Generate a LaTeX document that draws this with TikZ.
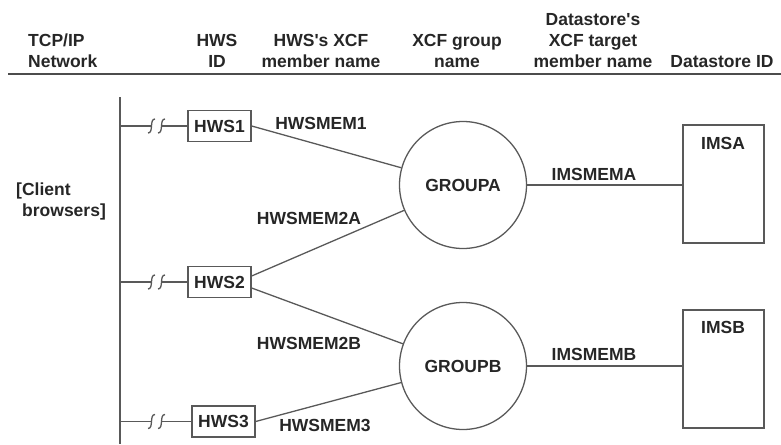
\documentclass[tikz,border=0pt]{standalone}
\usepackage{fontspec}
\setmainfont{Liberation Sans}
\usetikzlibrary{calc}
\begin{document}
\begin{tikzpicture}[x=1pt,y=-1pt,
  every node/.style={font=\fontsize{17.5}{21}\selectfont\bfseries, text=black!85},
  ln/.style={draw=black!65, line width=1.3pt},
  hws/.style={ln, minimum width=63pt, minimum height=31pt, inner sep=0pt},
  grp/.style={ln, circle, minimum size=127pt, inner sep=0pt},
  ds/.style={ln, minimum width=81pt, minimum height=118pt, inner sep=0pt},
  lbl/.style={inner sep=0pt},
  hdr/.style={align=center, inner sep=0pt}]
\useasboundingbox (0,0) rectangle (781,444);

% header
\node[hdr, align=left, anchor=west] (t1) at (28,51) {TCP/IP\\Network};
\node[hdr] (t2) at (217,51) {HWS\\ID};
\node[hdr] (t3) at (321,51) {HWS\textquotesingle s XCF\\member name};
\node[hdr] (t4) at (457,51) {XCF group\\name};
\node[hdr] (t5) at (593,41) {Datastore\textquotesingle s\\XCF target\\member name};
\node[hdr] (t6) at (722,62) {Datastore ID};
\coordinate (hl) at (8,74);
\coordinate (hr) at (781,74);
\draw[draw=black!70, line width=1.5pt] (hl) -- (hr);

% client side
\node[lbl, align=left, anchor=west] (cb) at (16,201) {[Client\\\hspace*{6pt}browsers]};
\coordinate (busT) at (120,97);
\coordinate (busB) at (120,444);
\draw[ln, line width=1.6pt] (busT) -- (busB);

% HWS boxes
\node[hws] (h1) at (219.5,126) {HWS1};
\node[hws] (h2) at (219.5,282) {HWS2};
\node[hws] (h3) at (223.5,421.5) {HWS3};

\foreach \n in {h1,h2,h3}{
  \coordinate (f-\n) at (busT |- \n);
  \draw[ln] (f-\n) -- ($(f-\n)+(31.5,0)$);
  \draw[ln] ($(f-\n)+(28,7)$) .. controls ($(f-\n)+(34,7)$) and ($(f-\n)+(29,-7)$) .. ($(f-\n)+(35,-7)$);
  \draw[ln] ($(f-\n)+(38,7)$) .. controls ($(f-\n)+(44,7)$) and ($(f-\n)+(39,-7)$) .. ($(f-\n)+(45,-7)$);
  \draw[ln] ($(f-\n)+(41.5,0)$) -- (\n.west);
}

% groups
\node[grp] (GA) at (463,185) {GROUPA};
\node[grp] (GB) at (463,366) {GROUPB};

% datastores
\node[ds] (IA) at (723.5,184) {};
\node[lbl] (IAl) at (723,143) {IMSA};
\node[ds] (IB) at (723.5,369) {};
\node[lbl] (IBl) at (723,327) {IMSB};

% connectors
\draw[ln] (h1.east) -- (GA);
\draw[ln] ($(h2.east)+(0,-6)$) -- (GA);
\draw[ln] ($(h2.east)+(0,6)$) -- (GB);
\draw[ln] (h3.east) -- (GB);
\draw[ln] (GA) -- (GA -| IA.west);
\draw[ln] (GB) -- (GB -| IB.west);

% connector labels
\node[lbl] (m1) at (321,123) {HWSMEM1};
\node[lbl] (m2a) at (309,218) {HWSMEM2A};
\node[lbl] (m2b) at (309,343) {HWSMEM2B};
\node[lbl] (m3) at (325,425) {HWSMEM3};
\node[lbl] (ma) at (594,174) {IMSMEMA};
\node[lbl] (mb) at (594,354) {IMSMEMB};
\end{tikzpicture}
\end{document}
